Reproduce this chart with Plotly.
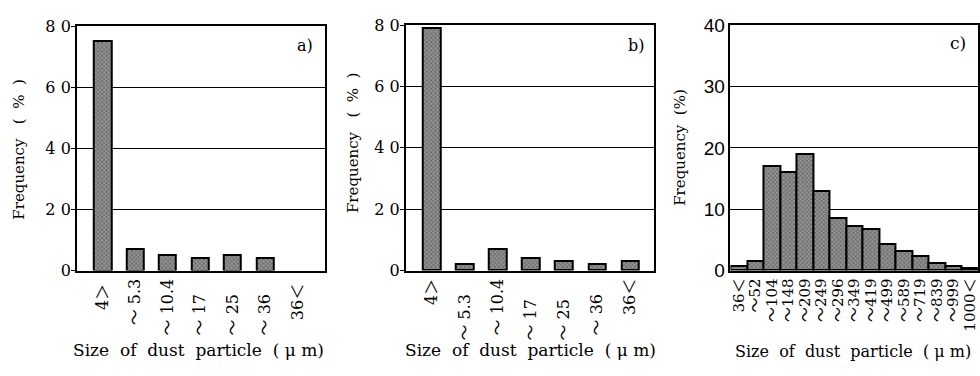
import plotly.graph_objects as go

# ---------------- data ----------------
cats_ab = ["4＞", "～5.3", "～10.4", "～17", "～25", "～36", "36＜"]
ticks_a = ["4＞\u00a0", "～ 5.3", "～ 10.4", "～ 17\u00a0\u00a0\u00a0", "～ 25\u00a0\u00a0\u00a0",
           "～ 36\u00a0\u00a0\u00a0", "36＜\u00a0"]
ticks_b = ["4＞", "～ 5.3\u00a0\u00a0\u00a0", "～ 10.4", "～ 17\u00a0\u00a0\u00a0\u00a0",
           "～ 25\u00a0\u00a0\u00a0\u00a0", "～ 36\u00a0\u00a0\u00a0", "36＜"]
vals_a = [75, 7, 5, 4, 5, 4, 0]
vals_b = [79, 2, 7, 4, 3, 2, 3]

cats_c = ["36＜", "～52", "～104", "～148", "～209", "～249", "～296", "～349",
          "～419", "～499", "～589", "～719", "～839", "～999", "1000＜"]
vals_c = [0.7, 1.5, 17, 16, 19, 13, 8.6, 7.2, 6.7, 4.3, 3.1, 2.3, 1.3, 0.8, 0.4]

yvals_ab = [0, 20, 40, 60, 80]
ytext_ab = ["0", "2 0", "4 0", "6 0", "8 0"]
yvals_c = [0, 10, 20, 30, 40]
ytext_c = ["0", "10", "20", "30", "40"]

W, H = 980, 376
SERIF = "DejaVu Serif, Liberation Serif, Noto Sans CJK JP, serif"
SANS = "Liberation Sans Narrow, Liberation Sans, Arial, sans-serif"


def px(x):
    return x / W


def py(y):
    return 1 - y / H


def bar_marker(values):
    return dict(
        color="#7c7c7c",
        line=dict(color="black", width=[2 if v > 0 else 0 for v in values]),
        pattern=dict(shape="x", fgcolor="#1a1a1a", bgcolor="#929292", size=3, solidity=0.35),
    )


fig = go.Figure()
fig.add_trace(go.Bar(x=cats_ab, y=vals_a, width=0.53, marker=bar_marker(vals_a),
                     xaxis="x", yaxis="y", showlegend=False))
fig.add_trace(go.Bar(x=cats_ab, y=vals_b, width=0.53, marker=bar_marker(vals_b),
                     xaxis="x2", yaxis="y2", showlegend=False))
fig.add_trace(go.Bar(x=cats_c, y=vals_c, width=1.0, marker=bar_marker(vals_c),
                     xaxis="x3", yaxis="y3", showlegend=False))

axis_common = dict(showline=True, mirror=True, linecolor="black", linewidth=1.5,
                   zeroline=False)

fig.update_layout(
    width=W, height=H,
    margin=dict(l=0, r=0, t=0, b=0),
    paper_bgcolor="white", plot_bgcolor="white",
    bargap=0,
    xaxis=dict(domain=[px(76), px(325)], anchor="y", range=[-0.8, 6.85],
               tickmode="array", tickvals=cats_ab, ticktext=ticks_a, tickangle=-90,
               ticks="", showgrid=False,
               tickfont=dict(family=SERIF, size=16, color="black"), **axis_common),
    yaxis=dict(domain=[py(276), py(17)], anchor="x", range=[0, 80],
               tickmode="array", tickvals=yvals_ab, ticktext=ytext_ab,
               ticks="outside", ticklen=4, tickcolor="black", ticklabelstandoff=-3,
               showgrid=True, gridcolor="black", gridwidth=1,
               tickfont=dict(family=SERIF, size=16, color="black"), **axis_common),
    xaxis2=dict(domain=[px(406), px(655)], anchor="y2", range=[-0.78, 6.72],
                tickmode="array", tickvals=cats_ab, ticktext=ticks_b, tickangle=-90,
                ticks="", showgrid=False,
                tickfont=dict(family=SERIF, size=16, color="black"), **axis_common),
    yaxis2=dict(domain=[py(276), py(16)], anchor="x2", range=[0, 80],
                tickmode="array", tickvals=yvals_ab, ticktext=ytext_ab,
                ticks="outside", ticklen=4, tickcolor="black", ticklabelstandoff=-3,
                showgrid=True, gridcolor="black", gridwidth=1,
                tickfont=dict(family=SERIF, size=16, color="black"), **axis_common),
    xaxis3=dict(domain=[px(731.7), 1.0], anchor="y3", range=[-0.5, 14.5],
                tickmode="array", tickvals=cats_c, ticktext=cats_c, tickangle=-90,
                ticks="", showgrid=False,
                tickfont=dict(family=SERIF, size=15, color="black"), **axis_common),
    yaxis3=dict(domain=[py(276), py(16)], anchor="x3", range=[0, 40],
                tickmode="array", tickvals=yvals_c, ticktext=ytext_c,
                ticks="", showgrid=True, gridcolor="black", gridwidth=1,
                tickfont=dict(family=SANS, size=19, color="black"), **axis_common),
)

title_x = "Size\u00a0 of\u00a0 dust\u00a0 particle\u00a0 (\u00a0μ\u00a0m)"
title_y_ab = "Frequency\u00a0\u00a0 (\u00a0\u00a0%\u00a0\u00a0)"
title_y_c = "Frequency\u00a0 (%)"

annos = [
    (18, 148, title_y_ab, -90, 15),
    (353, 141, title_y_ab, -90, 15),
    (681, 145, title_y_c, -90, 15),
    (198, 360, title_x, 0, 17),
    (531, 360, title_x, 0, 17),
    (855, 362, title_x, 0, 16),
    (305, 38, "a)", 0, 16),
    (637, 38, "b)", 0, 16),
    (960, 35, "c)", 0, 17),
]
for x, y, t, ang, sz in annos:
    fig.add_annotation(x=px(x), y=py(y), xref="paper", yref="paper", text=t,
                       textangle=ang, showarrow=False, xanchor="center", yanchor="middle",
                       font=dict(family=SERIF, size=sz, color="black"))

fig.write_html("out.html")
